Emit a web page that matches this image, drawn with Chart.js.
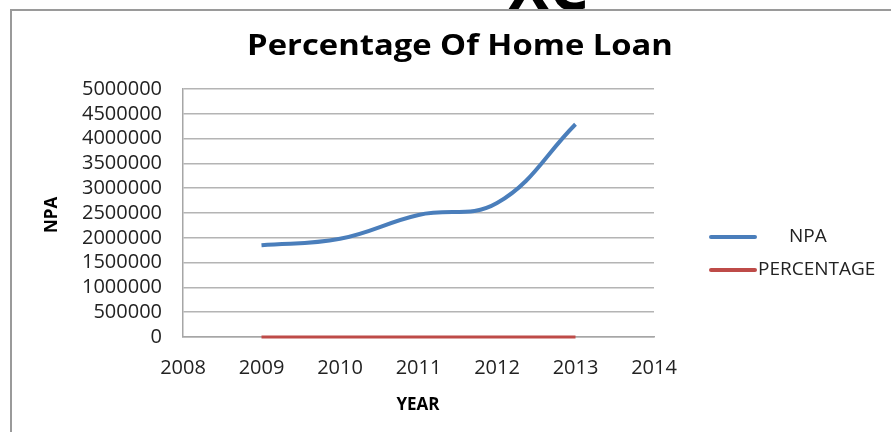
<!DOCTYPE html>
<html>
<head>
<meta charset="utf-8">
<script src="https://cdn.jsdelivr.net/npm/chart.js@4.4.0/dist/chart.umd.min.js"></script>
<style>
  html, body { margin: 0; padding: 0; background: #fff; }
  #wrap { width: 891px; height: 432px; position: relative; }
</style>
</head>
<body>
<div id="wrap"><canvas id="hl-line"></canvas></div>
<script>
//
// Percentage of home loan
//

var years = [2009, 2010, 2011, 2012, 2013];
var npaValues = [1850000, 1980000, 2460000, 2700000, 4290000];
var percentValues = [0, 0, 0, 0, 0];
var seriesNames = ['NPA', 'PERCENTAGE'];
var seriesColors = ['#4a7ebb', '#be4b48'];
var chartTitle = 'Percentage Of Home Loan';
var xTitle = 'YEAR';
var yTitle = 'NPA';

var FONT = '"Open Sans", sans-serif';

function toPoints(values) {
	return values.map(function(v, i) { return { x: years[i], y: v }; });
}

// Frame, titles and legend drawn on the canvas
var decorPlugin = {
	id: 'decor',
	beforeDraw: function(chart) {
		var ctx = chart.ctx;
		ctx.save();
		// clipped glyphs above the frame
		ctx.save();
		ctx.beginPath();
		ctx.rect(0, 0, 891, 9);
		ctx.clip();
		ctx.fillStyle = '#000';
		ctx.font = 'bold 62px ' + FONT;
		ctx.textBaseline = 'alphabetic';
		ctx.fillText('XC', 508, 10);
		ctx.restore();
		// frame
		ctx.strokeStyle = '#9a9a9a';
		ctx.lineWidth = 2;
		ctx.beginPath();
		ctx.moveTo(11, 432);
		ctx.lineTo(11, 10);
		ctx.lineTo(891, 10);
		ctx.stroke();
		ctx.restore();
	},
	afterDraw: function(chart) {
		var ctx = chart.ctx;
		ctx.save();
		ctx.fillStyle = '#000';
		ctx.textAlign = 'center';
		ctx.textBaseline = 'middle';
		// title, slightly stretched like the source picture
		ctx.save();
		ctx.translate(460, 47);
		ctx.scale(1.13, 1);
		ctx.font = 'bold 29px ' + FONT;
		ctx.fillText(chartTitle, 0, 0);
		ctx.restore();
		ctx.font = 'bold 17px ' + FONT;
		ctx.fillText(xTitle, 418, 405);
		ctx.translate(52, 215);
		ctx.rotate(-Math.PI / 2);
		ctx.fillText(yTitle, 0, 0);
		ctx.restore();

		// legend
		ctx.save();
		ctx.font = '19px ' + FONT;
		ctx.textBaseline = 'middle';
		ctx.lineCap = 'round';
		var rows = [
			{ y: 237, textX: 789 },
			{ y: 270, textX: 758 }
		];
		rows.forEach(function(r, i) {
			ctx.strokeStyle = seriesColors[i];
			ctx.lineWidth = 4;
			ctx.beginPath();
			ctx.moveTo(711, r.y);
			ctx.lineTo(755, r.y);
			ctx.stroke();
			ctx.fillStyle = '#222';
			ctx.textAlign = 'left';
			ctx.fillText(seriesNames[i], r.textX, r.y);
		});
		ctx.restore();
	}
};

var ctxEl = document.getElementById('hl-line');

var homeLoanChart = new Chart(ctxEl, {
	type: 'line',
	data: {
		datasets: [{
			label: seriesNames[0],
			data: toPoints(npaValues),
			borderColor: seriesColors[0],
			borderWidth: 4,
			tension: 0.4,
			pointRadius: 0,
			fill: false,
			clip: false
		}, {
			label: seriesNames[1],
			data: toPoints(percentValues),
			borderColor: seriesColors[1],
			borderWidth: 3,
			tension: 0.4,
			pointRadius: 0,
			fill: false,
			clip: false
		}]
	},
	options: {
		responsive: true,
		maintainAspectRatio: false,
		animation: false,
		layout: { padding: { top: 89, right: 237, bottom: 0, left: 0 } },
		plugins: {
			legend: { display: false },
			title: { display: false },
			tooltip: { enabled: false }
		},
		scales: {
			x: {
				type: 'linear',
				min: 2008,
				max: 2014,
				ticks: {
					stepSize: 1,
					autoSkip: false,
					maxRotation: 0,
					color: '#222',
					padding: 19,
					font: { family: FONT, size: 20 },
					callback: function(v) { return String(v); }
				},
				grid: { drawOnChartArea: false, drawTicks: false },
				border: { display: true, color: '#a6a6a6', width: 1.5 },
				afterFit: function(scale) { scale.height = 95; }
			},
			y: {
				min: 0,
				max: 5000000,
				ticks: {
					stepSize: 500000,
					autoSkip: false,
					color: '#222',
					padding: 21,
					font: { family: FONT, size: 20 },
					callback: function(v) { return String(v); }
				},
				grid: { color: '#b4b4b4', lineWidth: 1.5, drawTicks: false },
				border: { display: true, color: '#a6a6a6', width: 1.5 },
				afterFit: function(scale) { scale.width = 183; }
			}
		}
	},
	plugins: [decorPlugin]
});
</script>
</body>
</html>
